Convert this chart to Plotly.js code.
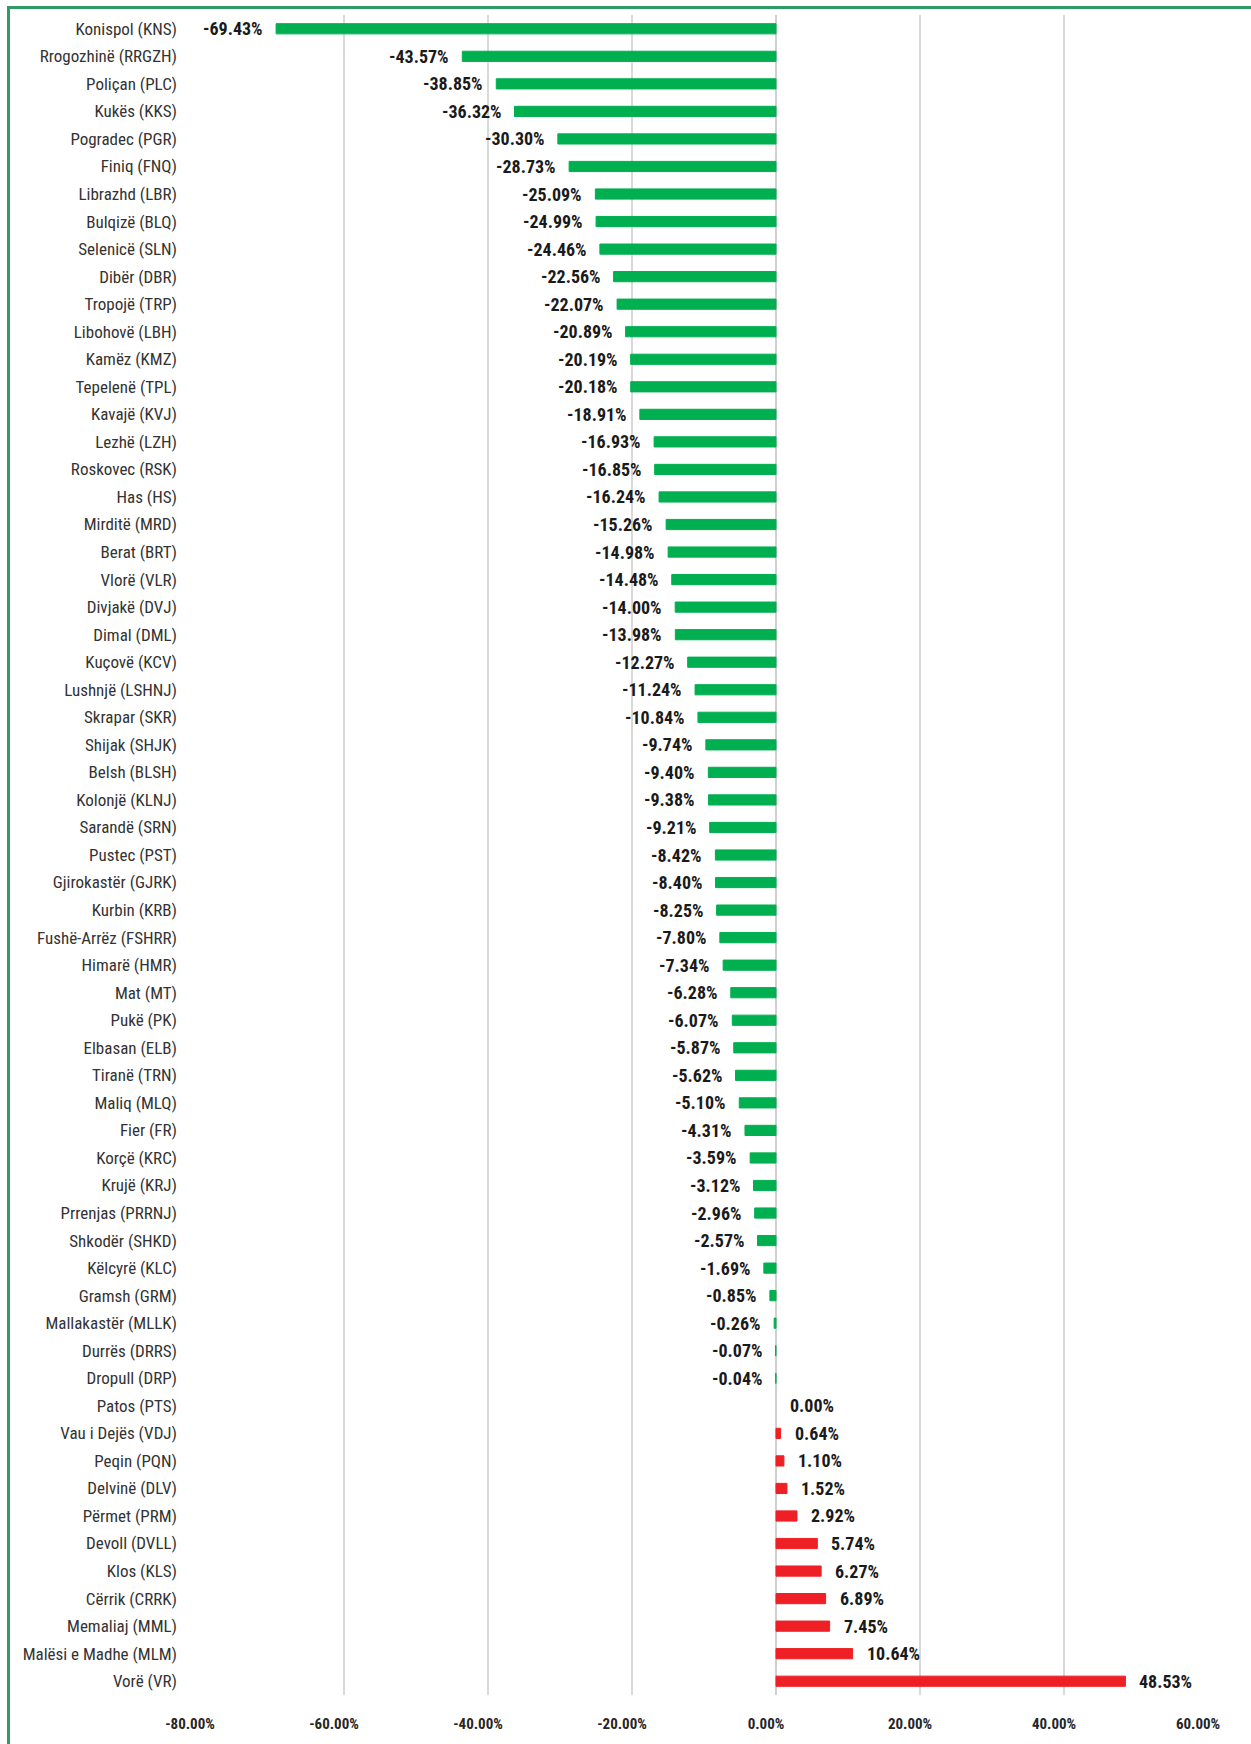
<!DOCTYPE html>
<html>
<head>
<meta charset="utf-8">
<script src="https://cdn.plot.ly/plotly-3.0.1.min.js"></script>
<style>
  html, body { margin: 0; padding: 0; background: #ffffff; }
  #frame { position: absolute; left: 7px; top: 6px; width: 1260px; height: 1760px;
           border-left: 3px solid #2f9c66; border-top: 3px solid #2f9c66; box-sizing: border-box; }
  #chart { position: absolute; left: 0; top: 0; width: 1251px; height: 1744px; }
</style>
</head>
<body>
<div id="frame"></div>
<div id="chart"></div>
<script>
const categories = [
  "Konispol (KNS)", "Rrogozhinë (RRGZH)", "Poliçan (PLC)", "Kukës (KKS)", "Pogradec (PGR)",
  "Finiq (FNQ)", "Librazhd (LBR)", "Bulqizë (BLQ)", "Selenicë (SLN)", "Dibër (DBR)",
  "Tropojë (TRP)", "Libohovë (LBH)", "Kamëz (KMZ)", "Tepelenë (TPL)", "Kavajë (KVJ)",
  "Lezhë (LZH)", "Roskovec (RSK)", "Has (HS)", "Mirditë (MRD)", "Berat (BRT)",
  "Vlorë (VLR)", "Divjakë (DVJ)", "Dimal (DML)", "Kuçovë (KCV)", "Lushnjë (LSHNJ)",
  "Skrapar (SKR)", "Shijak (SHJK)", "Belsh (BLSH)", "Kolonjë (KLNJ)", "Sarandë (SRN)",
  "Pustec (PST)", "Gjirokastër (GJRK)", "Kurbin (KRB)", "Fushë-Arrëz (FSHRR)", "Himarë (HMR)",
  "Mat (MT)", "Pukë (PK)", "Elbasan (ELB)", "Tiranë (TRN)", "Maliq (MLQ)",
  "Fier (FR)", "Korçë (KRC)", "Krujë (KRJ)", "Prrenjas (PRRNJ)", "Shkodër (SHKD)",
  "Këlcyrë (KLC)", "Gramsh (GRM)", "Mallakastër (MLLK)", "Durrës (DRRS)", "Dropull (DRP)",
  "Patos (PTS)", "Vau i Dejës (VDJ)", "Peqin (PQN)", "Delvinë (DLV)", "Përmet (PRM)",
  "Devoll (DVLL)", "Klos (KLS)", "Cërrik (CRRK)", "Memaliaj (MML)", "Malësi e Madhe (MLM)",
  "Vorë (VR)"
];
const changePct = [
  -69.43, -43.57, -38.85, -36.32, -30.30,
  -28.73, -25.09, -24.99, -24.46, -22.56,
  -22.07, -20.89, -20.19, -20.18, -18.91,
  -16.93, -16.85, -16.24, -15.26, -14.98,
  -14.48, -14.00, -13.98, -12.27, -11.24,
  -10.84, -9.74, -9.40, -9.38, -9.21,
  -8.42, -8.40, -8.25, -7.80, -7.34,
  -6.28, -6.07, -5.87, -5.62, -5.10,
  -4.31, -3.59, -3.12, -2.96, -2.57,
  -1.69, -0.85, -0.26, -0.07, -0.04,
  0.00, 0.64, 1.10, 1.52, 2.92,
  5.74, 6.27, 6.89, 7.45, 10.64,
  48.53
];
const xTickValues = [-80, -60, -40, -20, 0, 20, 40, 60];
const xTickLabels = ["-80.00%", "-60.00%", "-40.00%", "-20.00%", "0.00%", "20.00%", "40.00%", "60.00%"];

const GREEN = "#00b050";
const RED = "#ee2026";
const FONT = "'Liberation Sans Narrow', 'Roboto Condensed', 'DejaVu Sans Condensed', Roboto, sans-serif";

const barColors = changePct.map(v => v < 0 ? GREEN : RED);
const lineColors = changePct.map(v => v < 0 ? GREEN : (v > 0 ? RED : "rgba(0,0,0,0)"));

const trace = {
  type: "bar",
  orientation: "h",
  x: changePct,
  y: categories,
  marker: { color: barColors, line: { width: 1, color: lineColors } },
  width: 0.37,
  hoverinfo: "x+y"
};

const annotations = changePct.map((v, i) => ({
  x: v,
  y: categories[i],
  xref: "x",
  yref: "y",
  text: v.toFixed(2) + "%",
  showarrow: false,
  xanchor: v < 0 ? "right" : "left",
  yanchor: "middle",
  xshift: v < 0 ? -11 : 12,
  font: { family: FONT, size: 18, color: "#1a1a1a", weight: "bold" }
}));

const layout = {
  width: 1251,
  height: 1744,
  margin: { l: 200, r: 43, t: 15, b: 49 },
  paper_bgcolor: "rgba(0,0,0,0)",
  plot_bgcolor: "rgba(0,0,0,0)",
  showlegend: false,
  xaxis: {
    range: [-80, 60],
    tickvals: xTickValues,
    ticktext: xTickLabels,
    showgrid: true,
    gridcolor: "#d9d9d9",
    gridwidth: 2,
    zeroline: true,
    zerolinecolor: "#d0d0d0",
    zerolinewidth: 2,
    showline: false,
    ticks: "",
    ticklabelstandoff: 18,
    ticklabelshift: -10,
    tickfont: { family: FONT, size: 15, color: "#262626", weight: "bold" }
  },
  yaxis: {
    type: "category",
    autorange: "reversed",
    showgrid: false,
    zeroline: false,
    showline: false,
    ticks: "",
    ticklabelstandoff: 22,
    tickfont: { family: FONT, size: 17, color: "#333333" }
  },
  annotations: annotations
};

Plotly.newPlot("chart", [trace], layout, { displayModeBar: false, staticPlot: true });
</script>
</body>
</html>
